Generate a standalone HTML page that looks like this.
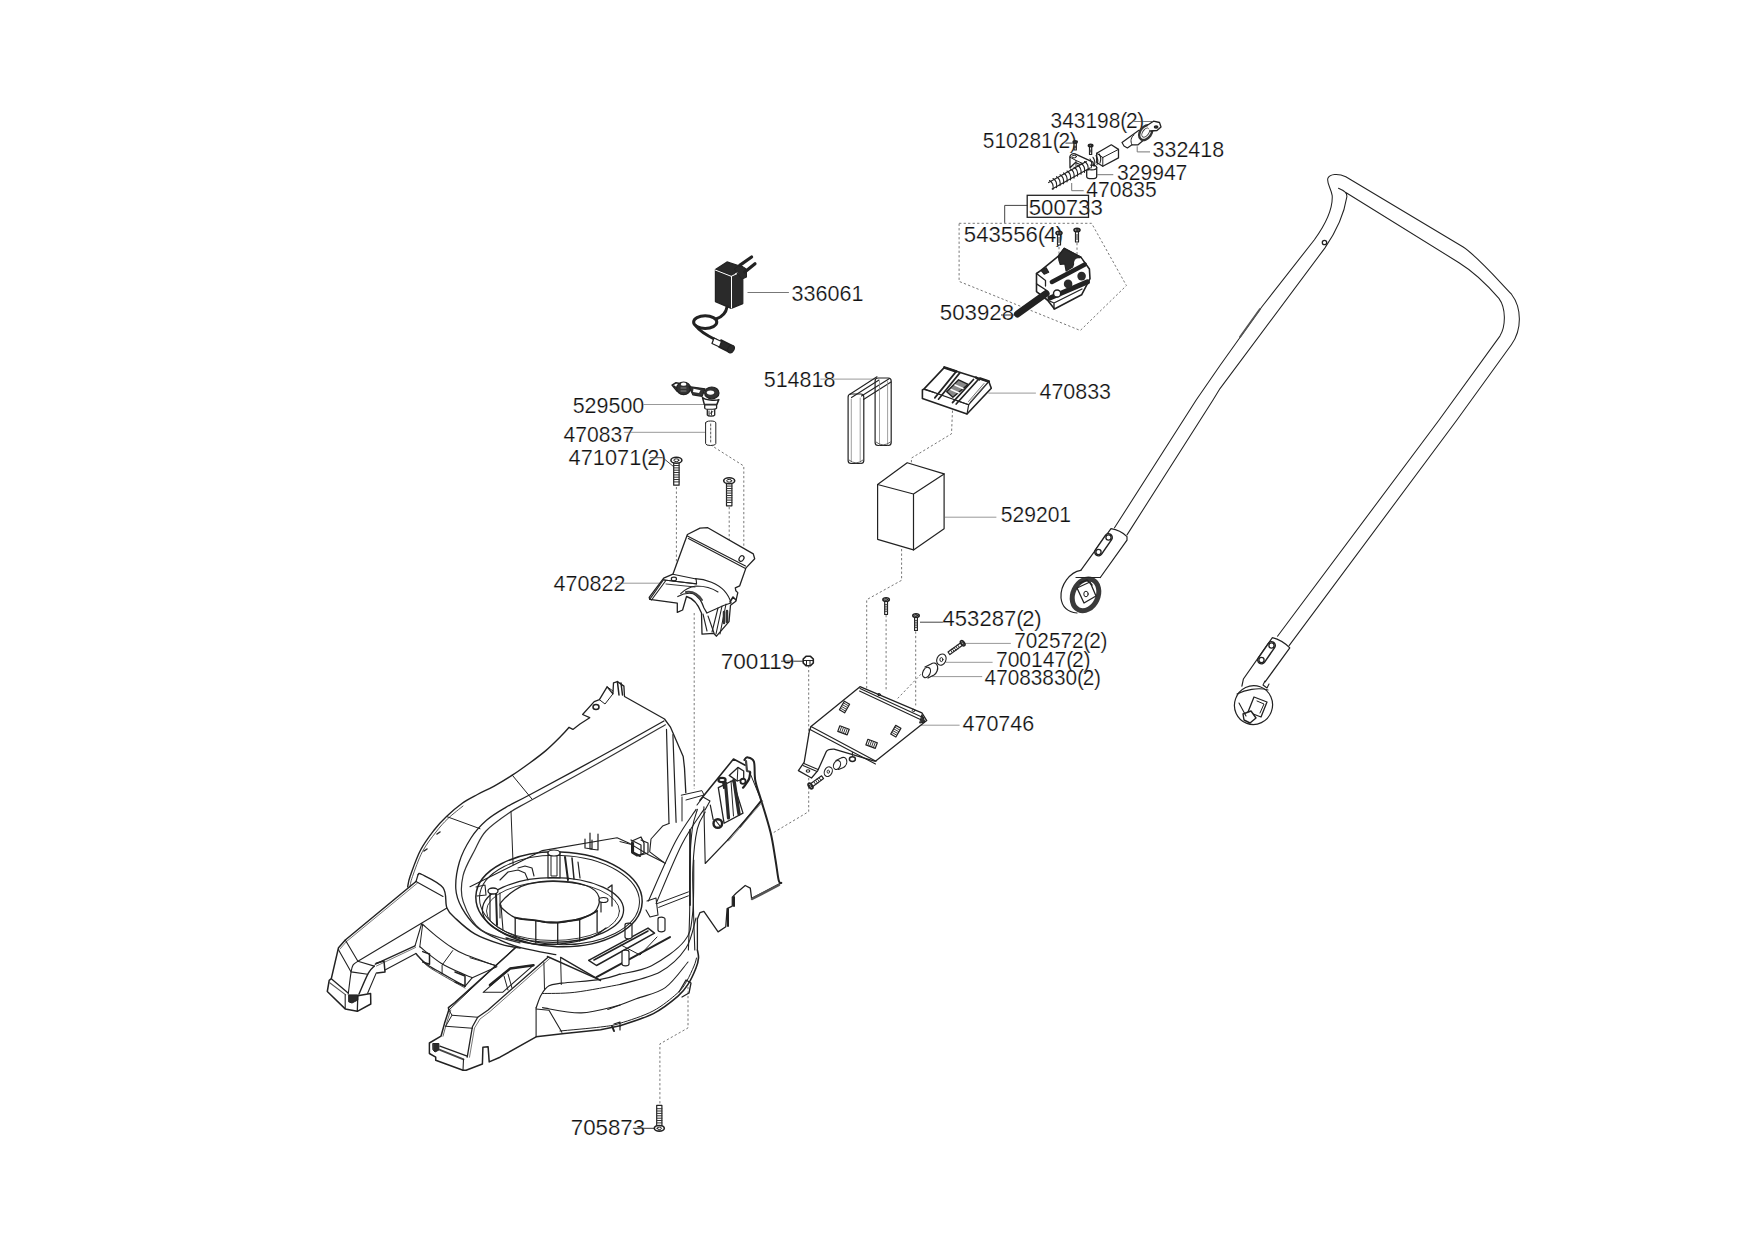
<!DOCTYPE html><html><head><meta charset="utf-8"><style>html,body{margin:0;padding:0;background:#fff;width:1754px;height:1240px;overflow:hidden}svg{display:block}text{font-family:"Liberation Sans",sans-serif}</style></head><body>
<svg width="1754" height="1240" viewBox="0 0 1754 1240">
<rect width="1754" height="1240" fill="#fff"/>
<g fill="none" stroke-width="1">
<path d="M1132,121.5H1152" stroke="#777"/>
<path d="M1065.4,143.1H1074.1" stroke="#444"/>
<path d="M1137.2,146.3V151.9H1150" stroke="#777"/>
<path d="M1097.3,174.7H1113.3" stroke="#777"/>
<path d="M1071.7,183V190.7H1083.7" stroke="#777"/>
<path d="M1004.7,205.4H1027.4M1004.7,205.4V222.9" stroke="#444"/>
<path d="M747.5,292.5H788.9" stroke="#777"/>
<path d="M820.4,379.1H876" stroke="#999"/>
<path d="M988.4,393.1H1035.9" stroke="#999"/>
<path d="M643.4,404.5H704.5" stroke="#999"/>
<path d="M624.2,432.3H705.7" stroke="#999"/>
<path d="M649.7,457.7H662.7L674.3,467.2" stroke="#444"/>
<path d="M945,517.2H996.4" stroke="#999"/>
<path d="M616.1,583.2H659.9" stroke="#999"/>
<path d="M920,622.2H943.3" stroke="#444"/>
<path d="M962.7,643.4H1010.8" stroke="#999"/>
<path d="M781.1,661.2H803.8" stroke="#333"/>
<path d="M945.8,662.3H992.6" stroke="#999"/>
<path d="M932,676.6H982.2" stroke="#999"/>
<path d="M917,725.2H959.6" stroke="#999"/>
<path d="M632.9,1128.3H654.7" stroke="#333"/>
<path d="M1001,315H1018" stroke="#333"/>
</g>
<g fill="none" stroke="#777" stroke-width="1" stroke-dasharray="2.3,2.2">
<path d="M959.1,223.3H1091.6L1126.4,285.6L1080.3,330.5L959.1,281.4Z"/>
<path d="M676.4,487V570"/>
<path d="M729.2,507V598"/>
<path d="M710.4,444.8L743.8,466V552"/>
<path d="M659.9,1103.4V1043.9L688,1027.9V987"/>
<path d="M808.7,665.5V811.6L771.5,833.8"/>
<path d="M901.6,549V580.3L866.7,599.7V725.4"/>
<path d="M886.1,615V691.6"/>
<path d="M915.7,631.4V705.4"/>
<path d="M921,674.2L897.7,698.4"/>
<path d="M952.5,410.6L951.5,433.8L911.4,458.1V482.4"/>
<path d="M1059,247V262"/>
<path d="M1077,243V256"/>
<path d="M694.2,613V789"/>
</g>
<g font-size="21.3" fill="#111" stroke="#fff" stroke-width="0.22">
<text transform="translate(1050.52,127.90) scale(0.9817,1.02)">343198(<tspan dx="-1.2">2</tspan><tspan dx="-0.4">)</tspan></text>
<text transform="translate(982.82,148.20) scale(0.9839,1.02)">510281(<tspan dx="-1.2">2</tspan><tspan dx="-0.4">)</tspan></text>
<text transform="translate(1152.59,156.80) scale(1.0072,1.02)">332418</text>
<text transform="translate(1117.01,179.60) scale(0.9899,1.02)">329947</text>
<text transform="translate(1086.31,196.50) scale(0.9899,1.02)">470835</text>
<text transform="translate(1028.76,214.70) scale(1.0420,1.02)">500733</text>
<text transform="translate(963.86,241.80) scale(1.0409,1.02)">543556(<tspan dx="-1.2">4</tspan><tspan dx="-0.4">)</tspan></text>
<text transform="translate(939.86,320.10) scale(1.0449,1.02)">503928</text>
<text transform="translate(791.59,300.90) scale(1.0121,1.02)">336061</text>
<text transform="translate(763.69,387.10) scale(1.0087,1.02)">514818</text>
<text transform="translate(1039.49,398.80) scale(1.0072,1.02)">470833</text>
<text transform="translate(572.69,412.90) scale(1.0072,1.02)">529500</text>
<text transform="translate(563.51,441.90) scale(0.9913,1.02)">470837</text>
<text transform="translate(568.58,464.80) scale(1.0226,1.02)">471071(<tspan dx="-1.2">2</tspan><tspan dx="-0.4">)</tspan></text>
<text transform="translate(1000.71,521.80) scale(0.9909,1.02)">529201</text>
<text transform="translate(553.59,590.90) scale(1.0101,1.02)">470822</text>
<text transform="translate(942.56,626.00) scale(1.0366,1.02)">453287(<tspan dx="-1.2">2</tspan><tspan dx="-0.4">)</tspan></text>
<text transform="translate(1014.22,647.90) scale(0.9763,1.02)">702572(<tspan dx="-1.2">2</tspan><tspan dx="-0.4">)</tspan></text>
<text transform="translate(720.74,668.70) scale(1.0597,1.02)">700119</text>
<text transform="translate(995.91,666.90) scale(0.9903,1.02)">700147(<tspan dx="-1.2">2</tspan><tspan dx="-0.4">)</tspan></text>
<text transform="translate(984.62,684.70) scale(0.9752,1.02)">47083830(<tspan dx="-1.2">2</tspan><tspan dx="-0.4">)</tspan></text>
<text transform="translate(962.49,730.90) scale(1.0101,1.02)">470746</text>
<text transform="translate(570.75,1134.80) scale(1.0464,1.02)">705873</text>
</g>
<rect x="1027.2" y="195.3" width="61.3" height="22" fill="none" stroke="#222" stroke-width="1.3"/>
<g fill="none" stroke="#222" stroke-width="1.2" stroke-linejoin="round" stroke-linecap="round">
<path d="M407.7,886.8C408.1,885.0 408.1,881.9 410.3,875.8C412.5,869.7 416.6,857.6 420.6,850.0C424.6,842.4 429.9,835.6 434.2,830.0C438.5,824.4 441.9,820.9 446.5,816.5C451.1,812.1 456.8,807.2 461.9,803.5C467.0,799.8 472.0,797.4 477.4,794.5C482.8,791.6 488.4,789.3 494.2,786.1C500.0,782.9 506.5,779.0 512.3,775.2C518.1,771.4 523.4,767.6 529.0,763.5C534.6,759.4 540.4,755.2 545.8,750.6C551.2,746.0 557.4,739.7 561.3,735.8C565.2,731.9 567.7,728.8 569.0,727.4" fill="none" stroke="#222" stroke-width="1.4"/>
<path d="M409.9,887.0C410.3,885.2 410.4,882.4 412.5,876.5C414.6,870.6 418.6,858.9 422.5,851.5C426.4,844.1 431.8,837.5 436.0,832.0C440.2,826.5 443.5,822.8 448.0,818.5C452.5,814.2 460.5,808.1 463.0,806.0" fill="none" stroke="#444" stroke-width="0.9"/>
<path d="M569.0,727.4L572.9,729.4L580.0,724.0L589.7,717.7L582.6,714.5L594.2,701.6L599.4,699.7L607.1,686.8L612.9,693.9L613.5,682.9L617.4,681.6L623.9,686.1L624.5,696.5L664.5,719.0L670.3,726.8L683.2,756.5L684.5,768.1L685.8,792.6" fill="none" stroke="#222" stroke-width="1.3"/>
<path d="M607.1,686.8L613.0,691.0" fill="none" stroke="#222" stroke-width="1"/>
<path d="M599.4,699.7L605.0,704.0L612.9,693.9" fill="none" stroke="#222" stroke-width="1"/>
<ellipse cx="596" cy="707" rx="3" ry="2.5" stroke-width="1.5"/>
<path d="M617.4,681.6L619.0,695.0" fill="none" stroke="#222" stroke-width="1.5"/>
<path d="M621.0,683.0L622.5,695.0" fill="none" stroke="#222" stroke-width="1.5"/>
<path d="M663.9,721.0C653.2,727.0 622.3,744.5 600.0,756.8C577.7,769.0 546.0,786.1 530.3,794.5C514.6,802.9 513.1,803.1 505.8,807.4C498.5,811.7 492.3,815.2 486.5,820.3C480.7,825.4 475.5,831.0 471.0,838.0C466.5,845.0 461.9,853.5 459.4,862.0C456.9,870.5 455.4,881.0 455.8,888.7C456.2,896.4 458.4,901.7 462.0,908.1C465.6,914.5 471.0,922.0 477.4,927.4C483.8,932.8 493.2,936.9 500.6,940.3C508.0,943.7 512.4,945.5 521.6,947.9C530.8,950.3 550.1,953.6 555.8,954.7" fill="none" stroke="#222" stroke-width="1.3"/>
<path d="M665.4,724.8C654.5,731.0 622.3,749.8 600.0,762.3C577.7,774.8 546.6,791.6 531.6,800.0C516.6,808.4 517.3,807.3 509.7,812.5C502.1,817.7 491.8,824.8 486.0,831.0C480.2,837.2 478.6,842.5 474.8,850.0C471.0,857.5 464.9,867.2 463.0,875.8C461.1,884.4 460.1,892.6 463.2,901.6C466.2,910.6 471.8,923.1 481.3,930.0C490.8,936.9 513.5,940.8 520.0,942.9" fill="none" stroke="#333" stroke-width="1.2"/>
<path d="M512.3,775.2L531.7,798.7" fill="none" stroke="#222" stroke-width="1"/>
<path d="M446.5,816.5L480.0,828.7" fill="none" stroke="#222" stroke-width="1"/>
<path d="M511.0,811.3L513.1,864.8" fill="none" stroke="#222" stroke-width="1"/>
<path d="M424,851l3,-2M437,834l3,-2" stroke-width="1.5"/>
<path d="M666.5,729.4L669.0,823.5" fill="none" stroke="#222" stroke-width="1.2"/>
<path d="M672.9,734.5L676.1,822.3" fill="none" stroke="#222" stroke-width="1.2"/>
<path d="M681.3,795.2L701.9,790.6L704.0,795.0L686.0,800.0" fill="none" stroke="#222" stroke-width="1"/>
<path d="M682.0,797.0L682.0,821.0" fill="none" stroke="#222" stroke-width="1"/>
<path d="M700.0,800.3L733.5,759.0L745.2,765.2" fill="none" stroke="#222" stroke-width="1.6"/>
<path d="M744.4,760.0C744.9,759.5 745.7,757.0 747.3,757.3C748.9,757.6 752.6,757.7 753.9,761.6C755.2,765.5 754.1,774.1 755.3,780.5C756.5,786.9 758.5,791.4 761.1,800.1C763.7,808.8 768.2,822.6 770.6,832.6C773.0,842.6 774.1,852.0 775.5,860.0C776.9,868.0 777.7,876.5 778.7,880.3C779.7,884.1 780.9,882.5 781.3,882.9" fill="none" stroke="#222" stroke-width="2"/>
<path d="M746.0,761.0L747.0,771.0L750.0,771.8" fill="none" stroke="#444" stroke-width="2.2"/>
<path d="M749.5,771.8L761.1,800.1" fill="none" stroke="#222" stroke-width="1"/>
<path d="M750.2,772.5C750.0,773.6 749.7,777.1 749.0,779.0C748.3,780.9 747.0,782.5 746.0,784.0C745.0,785.5 743.5,787.1 743.0,787.7" fill="none" stroke="#222" stroke-width="2.2"/>
<circle cx="743" cy="781.2" r="2.6" stroke-width="1.8" fill="#fff"/>
<path d="M729.2,775.4L737.9,767.4L743.7,771.0L743.7,779.0L737.2,781.0L729.2,775.4" fill="none" stroke="#222" stroke-width="1.3"/>
<path d="M737.9,767.4L737.2,781.0" fill="none" stroke="#222" stroke-width="1"/>
<path d="M718.3,787.7L732.8,780.5L743.0,813.1L724.1,823.3L718.3,787.7" fill="none" stroke="#222" stroke-width="1.3"/>
<path d="M725.5,783.0L728.5,818.0" fill="none" stroke="#2a2a2a" stroke-width="3.2"/>
<path d="M734.0,780.5L739.0,814.0" fill="none" stroke="#2a2a2a" stroke-width="3.4"/>
<path d="M731.0,781.0L733.5,816.0" fill="none" stroke="#222" stroke-width="1"/>
<ellipse cx="722" cy="780" rx="3.6" ry="2.2" stroke-width="2.2" fill="#fff"/>
<path d="M723.0,782.0L724.0,788.0" fill="none" stroke="#222" stroke-width="2"/>
<circle cx="717.8" cy="823.5" r="4.3" stroke-width="2.4" fill="#fff"/>
<path d="M716.0,821.0L720.0,826.0" fill="none" stroke="#222" stroke-width="1.2"/>
<path d="M710.3,805.2L713.2,819.7" fill="none" stroke="#222" stroke-width="1.2"/>
<path d="M740.0,826.9L761.4,800.3" fill="none" stroke="#222" stroke-width="1.6"/>
<path d="M727.7,840.0L761.8,800.8" fill="none" stroke="#222" stroke-width="1.2"/>
<path d="M728.5,841.0L762.5,801.8" fill="none" stroke="#666" stroke-width="0.8"/>
<path d="M703.9,806.8L705.2,863.5L727.7,840.0" fill="none" stroke="#222" stroke-width="1.1"/>
<path d="M781.3,882.9L751.6,898.4L750.3,888.1L745.2,885.5L736.1,893.2L732.3,897.1L732.3,906.1L727.1,908.7L725.8,926.8L718.1,931.9L703.9,911.3L700.0,912.6L697.4,919.0L697.4,950.0" fill="none" stroke="#222" stroke-width="1.3"/>
<path d="M779.0,885.0L752.0,899.0" fill="none" stroke="#555" stroke-width="2.5"/>
<path d="M734.0,897.0L734.0,906.0" fill="none" stroke="#222" stroke-width="2"/>
<path d="M728.0,909.0L728.0,926.0" fill="none" stroke="#222" stroke-width="2"/>
<path d="M696.1,809.4C692.7,814.8 683.5,826.3 675.5,841.6C667.5,856.9 652.9,891.1 648.4,901.0" fill="none" stroke="#222" stroke-width="1.1"/>
<path d="M703.9,809.4C700.2,815.2 689.9,828.5 681.9,844.2C673.9,859.9 660.4,893.6 656.1,903.5" fill="none" stroke="#222" stroke-width="1.1"/>
<path d="M697.4,809.4C696.5,812.6 693.6,819.0 692.3,828.7C691.0,838.4 690.1,853.9 689.7,867.4C689.3,880.9 689.9,896.2 689.7,910.0C689.5,923.8 688.6,943.3 688.4,950.0" fill="none" stroke="#222" stroke-width="1.1"/>
<path d="M705.2,812.0C703.9,814.8 699.5,819.5 697.4,828.7C695.3,837.9 693.5,853.9 692.9,867.4C692.2,880.9 693.2,896.2 693.5,910.0C693.8,923.8 694.6,943.3 694.8,950.0" fill="none" stroke="#222" stroke-width="1.1"/>
<path d="M697.0,805.0L703.0,797.0L710.0,801.0L705.0,810.0" fill="none" stroke="#222" stroke-width="1.1"/>
<path d="M690.0,830.0L690.0,905.0" fill="none" stroke="#222" stroke-width="1.8"/>
<path d="M647.0,901.0L656.0,898.0L658.0,915.0L650.0,917.0L646.0,910.0" fill="none" stroke="#222" stroke-width="1.1"/>
<path d="M657.4,903.5L688.4,891.9" fill="none" stroke="#222" stroke-width="1"/>
<path d="M658.7,907.4L688.4,895.8" fill="none" stroke="#222" stroke-width="1"/>
<path d="M669.0,823.5L662.6,826.1L651.0,839.0L649.7,851.9L665.2,863.5" fill="none" stroke="#222" stroke-width="1.1"/>
<path d="M620.0,841.6L630.3,844.2" fill="none" stroke="#222" stroke-width="1"/>
<path d="M631.0,840.0L641.0,845.0L641.0,855.0L648.0,853.0L648.0,843.0L641.0,840.0" fill="none" stroke="#222" stroke-width="1.2"/>
<path d="M632.0,843.0L632.0,852.0L640.0,856.0" fill="none" stroke="#222" stroke-width="2"/>
<path d="M416.0,881.5L345.3,940.0L338.5,947.7L331.3,978.7L329.2,980.3L327.3,991.5L345.2,1008.9L357.3,1011.3L370.8,1004.0L370.6,993.4L357.8,995.8" fill="none" stroke="#222" stroke-width="1.5"/>
<path d="M417.5,883.0L346.5,941.5L340.0,949.0" fill="none" stroke="#555" stroke-width="0.8"/>
<path d="M418.1,874.5C418.7,874.5 417.8,872.3 421.9,874.5C426.0,876.7 438.8,882.1 443.0,887.7C447.2,893.3 444.8,902.9 446.9,908.0C449.0,913.1 450.9,914.1 455.5,918.4C460.1,922.7 467.3,929.6 474.8,933.9C482.3,938.2 493.1,941.8 500.6,944.2C508.1,946.6 516.8,947.5 520.0,948.1" fill="none" stroke="#222" stroke-width="1.4"/>
<path d="M416.0,881.5L418.1,874.5" fill="none" stroke="#222" stroke-width="1.2"/>
<path d="M416.0,881.5L443.0,896.4" fill="none" stroke="#222" stroke-width="1.1"/>
<path d="M446.9,908.0L357.9,961.3L345.3,940.0" fill="none" stroke="#222" stroke-width="1.1"/>
<path d="M357.9,961.3C357.1,961.9 354.1,963.3 353.0,965.1C351.9,966.9 351.9,967.0 351.1,971.9C350.3,976.8 348.7,990.5 348.2,994.2" fill="none" stroke="#222" stroke-width="1.1"/>
<path d="M338.5,949.7L351.1,971.9L367.6,974.3" fill="none" stroke="#222" stroke-width="1.1"/>
<path d="M357.9,961.3L374.3,966.1" fill="none" stroke="#222" stroke-width="1.1"/>
<path d="M374.3,966.1C373.3,967.2 371.1,968.2 368.5,972.9C365.9,977.6 360.5,990.7 358.9,994.2" fill="none" stroke="#222" stroke-width="1.4"/>
<path d="M376.3,972.9L367.6,993.2" fill="none" stroke="#222" stroke-width="1.1"/>
<path d="M331.6,978.9L348.1,992.9" fill="none" stroke="#222" stroke-width="1.3"/>
<path d="M329.7,982.7L345.7,994.9" fill="none" stroke="#555" stroke-width="1.1"/>
<path d="M345.2,994.9L345.2,1008.4" fill="none" stroke="#222" stroke-width="1.1"/>
<path d="M349.0,994.9L357.8,994.9L357.8,1000.0L352.0,1003.0L349.0,1002.0Z" fill="#2a2a2a" stroke="#222" stroke-width="1"/>
<path d="M357.8,996.0L357.3,1011.3" fill="none" stroke="#222" stroke-width="1.3"/>
<path d="M375.3,964.2L415.0,945.8" fill="none" stroke="#222" stroke-width="1.3"/>
<path d="M376.5,966.0L415.5,947.5" fill="none" stroke="#555" stroke-width="0.8"/>
<path d="M385.0,970.0L415.9,953.5" fill="none" stroke="#222" stroke-width="1.1"/>
<path d="M376.3,963.2L384.0,961.0L385.0,972.0L377.0,973.0" fill="none" stroke="#222" stroke-width="1.5"/>
<path d="M421.7,923.5L415.0,945.8" fill="none" stroke="#222" stroke-width="1.1"/>
<path d="M422.7,924.0L419.8,946.8" fill="none" stroke="#222" stroke-width="1"/>
<path d="M422.7,924.5C425.0,926.4 431.6,932.4 436.3,936.1C441.0,939.8 446.0,943.7 450.8,946.8C455.6,949.9 457.3,951.3 465.0,954.5C472.7,957.7 491.5,964.2 496.8,966.1" fill="none" stroke="#222" stroke-width="1.1"/>
<path d="M415.9,953.5C417.7,955.3 422.4,961.0 426.6,964.2C430.8,967.4 434.7,969.2 441.1,972.9C447.5,976.6 461.0,984.1 465.0,986.4" fill="none" stroke="#222" stroke-width="1.3"/>
<path d="M417.0,955.5C418.8,957.2 423.3,962.8 427.5,966.0C431.7,969.2 435.8,971.3 442.0,975.0C448.2,978.7 461.2,985.8 465.0,988.0" fill="none" stroke="#222" stroke-width="0.8"/>
<path d="M419.8,946.8C423.4,949.5 433.6,958.5 441.1,963.2C448.6,967.9 459.8,972.4 465.0,974.8C470.2,977.2 471.1,977.2 472.3,977.7" fill="none" stroke="#222" stroke-width="1.1"/>
<path d="M452.7,950.6L442.1,965.1L442.1,973.0" fill="none" stroke="#222" stroke-width="1"/>
<path d="M422.7,951.6L429.5,954.0L429.5,964.2L422.7,962.0" fill="none" stroke="#222" stroke-width="1.5"/>
<path d="M455.0,972.0L465.0,976.0L465.0,986.0L455.0,982.0" fill="none" stroke="#222" stroke-width="1.5"/>
<path d="M465.0,986.4L472.3,977.7L496.8,966.8" fill="none" stroke="#222" stroke-width="1.1"/>
<path d="M515.5,947.7L454.8,1002.6L448.4,1007.7L448.8,1010.0L444.6,1023.1L441.0,1036.2L429.4,1043.0L429.4,1053.5L435.7,1057.2L435.7,1060.3L463.0,1070.3L466.1,1070.3L482.4,1064.0L482.9,1047.2L488.1,1046.7L489.2,1061.9L500.0,1057.2L536.1,1036.8L564.5,1033.5L600.6,1029.7L620.0,1025.8" fill="none" stroke="#222" stroke-width="1.5"/>
<path d="M450.8,1010.0L446.6,1023.1L443.0,1036.2" fill="none" stroke="#555" stroke-width="0.9"/>
<path d="M547.7,957.4L488.1,1010.0L477.7,1017.3L472.4,1026.8L467.2,1057.2" fill="none" stroke="#222" stroke-width="1.3"/>
<path d="M549.5,958.7L490.0,1011.5L480.0,1019.0L474.5,1028.0L469.5,1057.2" fill="none" stroke="#555" stroke-width="0.8"/>
<path d="M452.0,1015.2L477.7,1017.3" fill="none" stroke="#222" stroke-width="1.1"/>
<path d="M445.7,1026.2L472.4,1028.3" fill="none" stroke="#222" stroke-width="1.1"/>
<path d="M448.8,1010.0L452.0,1015.2L445.7,1026.2" fill="none" stroke="#222" stroke-width="1"/>
<path d="M439.9,1046.2L467.2,1056.1" fill="none" stroke="#222" stroke-width="1.3"/>
<path d="M439.9,1049.8L463.5,1059.3" fill="none" stroke="#444" stroke-width="1.8"/>
<path d="M463.5,1059.3L463.0,1070.3" fill="none" stroke="#222" stroke-width="1.1"/>
<path d="M433.1,1043.5L438.9,1043.5L438.9,1050.0L435.0,1052.0L433.1,1050.0Z" fill="#2a2a2a" stroke="#222" stroke-width="1"/>
<path d="M483.2,992.3L510.3,968.4L533.5,965.2L502.6,992.3L483.2,992.3" fill="none" stroke="#222" stroke-width="1.1"/>
<path d="M490.0,985.0L510.3,968.4L533.5,965.2" fill="none" stroke="#222" stroke-width="2.5"/>
<path d="M504.0,976.0L508.0,990.0" fill="none" stroke="#222" stroke-width="1"/>
<path d="M508.0,974.0L512.0,988.0" fill="none" stroke="#222" stroke-width="1"/>
<path d="M470.0,957.7L495.8,965.5" fill="none" stroke="#222" stroke-width="1"/>
<path d="M515.2,947.4L495.8,965.5L449.0,1010.0" fill="none" stroke="#222" stroke-width="1"/>
<path d="M536.1,1007.7C537.0,1005.6 539.1,998.4 541.3,994.8C543.4,991.1 545.6,987.7 549.0,985.8C552.4,983.9 553.3,984.3 561.9,983.2C570.5,982.1 590.9,980.9 600.6,979.4C610.3,977.9 616.8,975.1 620.0,974.2" fill="none" stroke="#222" stroke-width="1.2"/>
<path d="M542.6,993.5C548.0,993.3 561.9,993.8 574.8,992.3C587.7,990.8 612.5,985.8 620.0,984.5" fill="none" stroke="#222" stroke-width="1"/>
<path d="M536.1,1009.0L549.0,1010.3L561.9,1032.3" fill="none" stroke="#222" stroke-width="1.1"/>
<path d="M542.6,1007.7C549.0,1008.6 568.4,1013.3 581.3,1012.9C594.2,1012.5 613.5,1006.5 620.0,1005.2" fill="none" stroke="#222" stroke-width="1.2"/>
<path d="M536.1,1007.7L536.1,1036.8" fill="none" stroke="#222" stroke-width="1.1"/>
<path d="M543.9,962.6L544.5,989.7" fill="none" stroke="#222" stroke-width="1"/>
<path d="M560.6,957.4L561.3,984.5" fill="none" stroke="#222" stroke-width="1"/>
<path d="M560.6,957.4L600.6,980.6" fill="none" stroke="#222" stroke-width="1.4"/>
<path d="M620.0,1025.8C625.6,1023.8 643.7,1018.5 653.4,1013.6C663.1,1008.7 672.2,1001.2 678.0,996.2C683.8,991.2 685.3,988.6 688.3,983.9C691.3,979.2 694.3,972.3 696.0,968.0C697.7,963.7 698.3,961.0 698.5,958.0C698.7,955.0 697.6,951.3 697.4,950.0" fill="none" stroke="#222" stroke-width="1.6"/>
<path d="M560.0,1031.0C566.8,1030.3 590.6,1028.3 600.6,1027.0C610.6,1025.7 611.3,1026.0 620.0,1023.3C628.7,1020.6 643.5,1016.0 653.0,1011.0C662.5,1006.0 671.4,998.4 677.0,993.5C682.6,988.6 683.7,986.1 686.5,981.5C689.3,976.9 692.3,969.9 694.0,966.0C695.7,962.1 696.1,959.3 696.5,958.0" fill="none" stroke="#222" stroke-width="1.0"/>
<path d="M620.0,974.2C625.3,972.8 640.9,971.2 651.6,965.7C662.3,960.2 677.6,949.7 684.4,941.0C691.2,932.3 691.0,927.2 692.6,913.7C694.2,900.2 693.6,869.0 693.8,860.0" fill="none" stroke="#222" stroke-width="1.1"/>
<path d="M620.0,984.5C626.7,982.4 649.0,978.1 660.0,972.0C671.0,965.9 680.0,957.0 686.0,948.0C692.0,939.0 694.3,923.0 696.0,918.0" fill="none" stroke="#222" stroke-width="1.1"/>
<path d="M607.8,1009.5C612.5,1007.7 626.6,1002.4 636.2,998.8C645.8,995.1 656.7,993.7 665.3,987.6C673.9,981.5 684.2,966.3 688.0,962.0" fill="none" stroke="#222" stroke-width="1.1"/>
<path d="M679.0,992.0L686.0,980.0L691.0,983.0L689.0,993.0L682.0,997.0" fill="none" stroke="#222" stroke-width="1.3"/>
<path d="M612.0,1026.0L614.0,1031.0" fill="none" stroke="#222" stroke-width="2"/>
<path d="M614.0,1024.0L620.0,1022.0L620.0,1030.0" fill="none" stroke="#222" stroke-width="1.2"/>
<path d="M588.7,960.3L648.0,928.1L654.5,933.2L596.5,965.5L588.7,960.3" fill="none" stroke="#222" stroke-width="1.5"/>
<path d="M594.0,960.0L648.0,931.0" fill="none" stroke="#222" stroke-width="1.6"/>
<path d="M547.4,956.5L599.0,979.7" fill="none" stroke="#222" stroke-width="1.4"/>
<path d="M596.5,977.1L670.0,937.1" fill="none" stroke="#222" stroke-width="2.0"/>
<path d="M625,925v12a3.5,1.8 0 0 0 7,0v-12a3.5,1.8 0 0 0 -7,0z" fill="#fff" stroke-width="1.2"/>
<path d="M622,952v12a3.5,1.8 0 0 0 7,0v-12a3.5,1.8 0 0 0 -7,0z" fill="#fff" stroke-width="1.2"/>
<path d="M658,919v11a3.5,1.8 0 0 0 7,0v-11a3.5,1.8 0 0 0 -7,0z" fill="#fff" stroke-width="1.2"/>
<path d="M621.0,945.0L640.0,955.0L657.0,937.0" fill="none" stroke="#222" stroke-width="1"/>
<ellipse cx="559" cy="899.3" rx="83.2" ry="47.4" transform="rotate(2 559 899.3)" stroke-width="1.5"/>
<ellipse cx="559.5" cy="900" rx="80" ry="44.6" transform="rotate(2 559.5 900)" stroke-width="1.0"/>
<ellipse cx="553" cy="910" rx="70.6" ry="32.3" stroke-width="1.3"/>
<ellipse cx="553" cy="911" rx="66.5" ry="29.5" stroke-width="0.9"/>
<path d="M501.0,907.4C501.0,906.5 498.7,905.2 501.0,902.3C503.3,899.4 510.5,893.0 515.0,890.0C519.5,887.0 521.5,885.7 528.0,884.2C534.5,882.7 544.2,880.8 553.9,881.0C563.6,881.2 578.5,882.8 586.0,885.5C593.5,888.2 597.7,892.6 599.0,897.1C600.3,901.6 598.3,908.7 594.0,912.6C589.7,916.5 580.1,918.6 573.2,920.3C566.3,922.0 559.1,922.9 552.6,922.9C546.1,922.9 540.7,921.2 534.5,920.3C528.3,919.4 520.8,919.9 515.2,917.7C509.6,915.6 503.4,909.1 501.0,907.4" fill="none" stroke="#222" stroke-width="1.3"/>
<path d="M506.0,938.0C510.7,939.0 525.0,943.0 534.0,944.0C543.0,945.0 550.7,945.0 560.0,944.0C569.3,943.0 582.3,940.7 590.0,938.0C597.7,935.3 603.3,929.7 606.0,928.0" fill="none" stroke="#222" stroke-width="1.3"/>
<path d="M515.2,917.7L515.2,938.0" fill="none" stroke="#222" stroke-width="1.3"/>
<path d="M535.8,920.3L535.8,943.0" fill="none" stroke="#222" stroke-width="1.3"/>
<path d="M557.7,922.5L557.7,944.0" fill="none" stroke="#222" stroke-width="1.3"/>
<path d="M579.7,919.5L579.7,941.0" fill="none" stroke="#222" stroke-width="1.3"/>
<path d="M597.1,911.0L597.1,932.0" fill="none" stroke="#222" stroke-width="1.3"/>
<path d="M501.0,905.0L503.0,930.0" fill="none" stroke="#222" stroke-width="1.1"/>
<path d="M515.2,917.7L522.0,919.0L535.8,920.3L545.0,922.0L557.7,922.5L568.0,921.0L579.7,919.5L590.0,915.0L597.1,911.0" fill="none" stroke="#222" stroke-width="1.8"/>
<path d="M548.0,852.0L548.0,878.0L560.0,878.0L560.0,852.0" fill="none" stroke="#222" stroke-width="1.2"/>
<path d="M551.0,856.0L551.0,876.0L557.0,876.0L557.0,856.0" fill="none" stroke="#222" stroke-width="1"/>
<ellipse cx="554" cy="853" rx="6" ry="3" fill="#fff" stroke-width="1.2"/>
<path d="M565.0,857.0L568.0,880.0" fill="none" stroke="#222" stroke-width="2"/>
<path d="M572.0,858.0L574.0,879.0" fill="none" stroke="#222" stroke-width="1.5"/>
<path d="M578.0,862.0L580.0,878.0" fill="none" stroke="#222" stroke-width="1.2"/>
<path d="M490.0,892.0L490.0,920.0" fill="none" stroke="#222" stroke-width="1.2"/>
<path d="M496.0,893.0L497.0,925.0" fill="none" stroke="#222" stroke-width="2"/>
<path d="M500.0,893.0L500.0,918.0" fill="none" stroke="#222" stroke-width="1"/>
<ellipse cx="493" cy="891" rx="5" ry="3" fill="#fff" stroke-width="1.3"/>
<path d="M601.0,900.0L601.0,912.0" fill="none" stroke="#222" stroke-width="1.2"/>
<ellipse cx="603.5" cy="900" rx="4.5" ry="2.5" fill="#fff" stroke-width="1.2"/>
<path d="M608.0,888.0L612.0,885.0L612.0,906.0" fill="none" stroke="#222" stroke-width="1.3"/>
<path d="M500.0,880.0L508.0,872.0L518.0,870.0L525.0,873.0L528.0,880.0" fill="none" stroke="#222" stroke-width="1.1"/>
<path d="M518.0,868.0L525.0,866.0L532.0,868.0L534.0,876.0" fill="none" stroke="#222" stroke-width="1.1"/>
<path d="M476.0,887.0L485.0,885.0L486.0,895.0L477.0,896.0" fill="none" stroke="#222" stroke-width="1.1"/>
<path d="M470.0,886.8L542.3,850.6L617.1,837.7L628.7,842.9L648.0,854.5L663.5,862.3" fill="none" stroke="#222" stroke-width="1.1"/>
<path d="M585.0,839.0L585.0,848.0L592.0,849.0L592.0,840.0" fill="none" stroke="#222" stroke-width="1.2"/>
<path d="M590.0,833.0L590.0,849.0L598.0,850.0L598.0,834.0" fill="none" stroke="#222" stroke-width="1.2"/>
<path d="M632.0,841.0L641.0,837.0L644.0,843.0L644.0,853.0L637.0,856.0L632.0,853.0L632.0,841.0" fill="none" stroke="#222" stroke-width="1.3"/>
<path d="M633.0,843.0L633.0,852.0" fill="none" stroke="#222" stroke-width="2.2"/>
</g><g fill="none" stroke="#222" stroke-width="1.2" stroke-linejoin="round" stroke-linecap="round">
<path stroke-width="1.05" d="M1114.5,527.8L1196.2,400L1220,365.5L1261.9,306.8L1314.4,239.7C1325,225 1333,210 1332.2,195.6C1331,188 1326,182 1328,178C1330,174 1338,173 1345.8,176.8L1463.2,247C1478,257 1496,278 1511.5,294.2C1522,308 1522,330 1511.5,344.5L1456.9,420L1289.1,645.6"/>
<path stroke-width="1.05" d="M1127,534.9L1213,400L1220,388.6L1324.8,248.1C1336,232 1344,215 1346.9,196.7C1347,193 1345,191 1338.5,188.3M1345.8,192.5L1459,262.7C1474,272 1490,288 1498.9,298.4C1506,308 1506,326 1499.9,336.1L1439.1,420L1277.5,636.2"/>
<circle cx="1324.5" cy="242.5" r="2.2" stroke-width="1.3"/>
<path d="M1260,309L1240,337" stroke-width="2" stroke="#555"/>
<path d="M1111,528.7Q1120,530 1127,536.6L1127,540.2L1100.3,577.5M1111,528.7L1080.8,570.4" fill="#fff"/>
<path d="M1108.5,537.5L1098.5,552" stroke-width="9" stroke-linecap="round"/><path d="M1108.5,537.5L1098.5,552" stroke="#fff" stroke-width="6" stroke-linecap="round"/>
<circle cx="1108.5" cy="537.5" r="2.6" stroke-width="1.3"/><circle cx="1098.5" cy="552" r="2.6" stroke-width="1.3"/>
<path d="M1080.8,570.4C1070,572 1060,585 1061,598C1062,607 1068,612 1077,613" fill="#fff" stroke-width="1.2"/>
<ellipse cx="1085.5" cy="594.8" rx="12.5" ry="16.5" transform="rotate(25 1085.5 594.8)" fill="#fff" stroke-width="5" stroke="#3a3a3a"/>
<path d="M1076,577.5H1100.3" stroke-width="1.2"/>
<path d="M1077,588L1090,582L1096,596L1084,603Z" fill="#fff" stroke-width="1.3"/><ellipse cx="1086" cy="594" rx="2.2" ry="2.8" stroke-width="1"/>
<path d="M1080,583L1087,580L1092,585" stroke-width="1.5"/>
<path d="M1272.4,637.6Q1282,640 1289.8,647.8L1265.1,681.9M1272.4,637.6L1243.4,679L1241.9,686.2" fill="#fff"/>
<path d="M1271.5,645.5L1261.5,660" stroke-width="9" stroke-linecap="round"/><path d="M1271.5,645.5L1261.5,660" stroke="#fff" stroke-width="6" stroke-linecap="round"/>
<circle cx="1271.5" cy="645.5" r="2.6" stroke-width="1.3"/><circle cx="1261.5" cy="660" r="2.6" stroke-width="1.3"/>
<path d="M1265,681L1263,685L1267,688L1269,684" stroke-width="1.1"/>
<ellipse cx="1253.5" cy="705.1" rx="19" ry="19.5" transform="rotate(20 1253.5 705.1)" fill="#fff"/>
<path d="M1237,694C1245,690 1258,687 1268,690" stroke-width="1.1"/>
<path d="M1254,697L1267,702L1261,717L1248,712Z" fill="#fff" stroke-width="1.3"/><path d="M1257,701L1264,704L1260,713" stroke-width="1"/>
<path d="M1243,714L1251,711L1256,718L1250,723L1244,720Z" fill="#fff" stroke-width="1.4"/>
<path d="M1239,703L1246,716" stroke-width="1.1"/>
<path d="M715.4,270.1L731.2,276.3L742.8,271.5L742.8,303.6L731.2,308.4L715.4,301.6Z" fill="#2a2a2a" stroke="#222" stroke-width="1.2" />
<path d="M715.4,269.4L727,261.9L742.1,266.7L731.8,275.6Z" fill="#2a2a2a" stroke="#222" stroke-width="1.2" />
<path d="M715.4,270.1L731.2,276.3L742.4,271.3M731.5,276.3V308" fill="none" stroke="#fff" stroke-width="1" />
<path d="M734.6,268.8L740,265L746.5,269L746.5,277.2L742,279Z" fill="#2a2a2a" stroke="#222" stroke-width="1" />
<path d="M739.7,265.4L751.6,257M744.8,272L755,263.7" fill="none" stroke="#222" stroke-width="3.2" />
<path d="M727,307C726,313 722,317 716,319" fill="none" stroke="#222" stroke-width="3" />
<ellipse cx="705.2" cy="322.1" rx="11.6" ry="6.4" stroke-width="3"/>
<path d="M696,326C700,332 708,336 716,340" fill="none" stroke="#222" stroke-width="3" />
<path d="M721,340L731,345L729,352L719,347Z" fill="#2a2a2a" stroke="#222" stroke-width="1.5" />
<ellipse cx="731" cy="349" rx="3" ry="4" fill="#2a2a2a" transform="rotate(30 731 349)"/>
<path d="M714,338L721.5,341.5L719.5,347L712,343.5Z" fill="#fff" stroke="#222" stroke-width="1.3" />
<path d="M672.1,385.1L676,382.8L680,383.5L681,392.5L677,391Z" fill="#fff" stroke="#222" stroke-width="1.6" />
<path d="M674,386L679,390" fill="none" stroke="#222" stroke-width="1.5" />
<ellipse cx="683.6" cy="388.3" rx="7" ry="6.3" fill="#333" stroke="#222" stroke-width="1.2"/>
<ellipse cx="683.6" cy="384.2" rx="2.8" ry="1.6" fill="#fff" stroke="none"/>
<path d="M681,388H686M681,391H686" fill="none" stroke="#999" stroke-width="0.8" />
<path d="M689,386.5L705.1,388.8L702.1,396.3L692.8,394.8Z" fill="#333" stroke="#222" stroke-width="1.2" />
<path d="M693.5,388.8L700.5,390.2L699,393L693,392Z" fill="#fff" stroke="none" stroke-width="1.2" />
<path d="M702.5,397.5C705,400 715,401 718.8,399.6L716.9,404.4H704.3Z" fill="#fff" stroke="#222" stroke-width="1.5" />
<ellipse cx="711.8" cy="392.9" rx="7.2" ry="5.9" fill="#333" stroke="#222" stroke-width="1.2"/>
<ellipse cx="710.5" cy="392.6" rx="3.7" ry="2.1" fill="#fff" stroke="none"/>
<path d="M704.7,404.8V408C705,410 716,410 716.6,408V404.8Z" fill="#fff" stroke="#222" stroke-width="1.3" />
<path d="M707.3,409.8V415C708,416.5 714,416.5 714.7,415V409.8" fill="#fff" stroke="#222" stroke-width="1.3" />
<path d="M709,411V415M711.5,411V415M713,411.5L710,413.5" fill="none" stroke="#222" stroke-width="0.9" />
<path d="M705.6,423V443.5A5.1,2 0 0 0 715.8,443.5V423A5.1,2 0 0 0 705.6,423Z" fill="#fff" stroke="#222" stroke-width="1" />
<path d="M710.7,424V443" stroke="#555" stroke-width="1" stroke-dasharray="2,2"/>
<path d="M673.7,460.2L673.7,485.2L679.1,485.2L679.1,460.2Z" fill="#fff" stroke="#222" stroke-width="1.2"/><path d="M673.7,465.5L679.1,465.5M673.7,467.9L679.1,467.9M673.7,470.2L679.1,470.2M673.7,472.5L679.1,472.5M673.7,474.9L679.1,474.9M673.7,477.2L679.1,477.2M673.7,479.5L679.1,479.5M673.7,481.9L679.1,481.9" stroke="#333" stroke-width="1"/><ellipse cx="676.4" cy="460.2" rx="5.5" ry="3.0" fill="#fff" stroke="#222" stroke-width="1.6" transform="rotate(0.0 676.4 460.2)"/><ellipse cx="676.4" cy="460.2" rx="2.5" ry="1.4" fill="none" stroke="#222" stroke-width="1" transform="rotate(0.0 676.4 460.2)"/>
<path d="M726.5,480.8L726.5,505.8L731.9,505.8L731.9,480.8Z" fill="#fff" stroke="#222" stroke-width="1.2"/><path d="M726.5,486.1L731.9,486.1M726.5,488.5L731.9,488.5M726.5,490.8L731.9,490.8M726.5,493.1L731.9,493.1M726.5,495.5L731.9,495.5M726.5,497.8L731.9,497.8M726.5,500.1L731.9,500.1M726.5,502.5L731.9,502.5" stroke="#333" stroke-width="1"/><ellipse cx="729.2" cy="480.8" rx="5.5" ry="3.0" fill="#fff" stroke="#222" stroke-width="1.6" transform="rotate(0.0 729.2 480.8)"/><ellipse cx="729.2" cy="480.8" rx="2.5" ry="1.4" fill="none" stroke="#222" stroke-width="1" transform="rotate(0.0 729.2 480.8)"/>
<path d="M687.4,534.5L700,528.2L707.8,527.7L753.3,553.9L754.7,558.7L746,567.9L739.7,585.8L735.3,587.8L735.8,590.7L737.8,592.6L735.8,601.3L730.5,605.2L729,621.6L716.5,636.2L713.6,633.3L702,634.2L701.5,612.9C698,604 692,598 686.5,596.5L682.6,610L677.3,612.4L677.3,603.2L649.7,599.4L649.2,597.4L663.7,578.1L672.9,574.2Z" fill="#fff" stroke="#222" stroke-width="1.3" />
<path d="M687.4,536L745.5,566M688.4,538.5L745.5,568.5" fill="none" stroke="#222" stroke-width="1.1" />
<path d="M672.9,574.2L696.1,579L696.6,583.9L664.2,580M663.7,579.5L649.7,599.4M665.5,581L651.5,600" fill="none" stroke="#222" stroke-width="1.1" />
<path d="M664.2,580L696.6,583.9M666,584L695,587" fill="none" stroke="#222" stroke-width="0.9" />
<ellipse cx="673.9" cy="579" rx="2.6" ry="1.8" stroke-width="1.2"/>
<path d="M695.2,578.6C706,579 718,584 724.2,590.7C728,595 730,599 731,603" fill="none" stroke="#222" stroke-width="1.1" />
<path d="M680.7,593.6C685,589 690,587 696,586C703,586 712,588 718,592" fill="none" stroke="#222" stroke-width="1.1" />
<path d="M677.8,596.5C684,593 690,593 693.2,593.6C698,596 702,602 704,608L706.8,612.9" fill="none" stroke="#222" stroke-width="1.2" />
<path d="M686,592C692,591 698,594 702,600" fill="none" stroke="#444" stroke-width="2" />
<path d="M706.8,612.9L724.2,605.2L731,603M703,614L707,631M708,616L714,633" fill="none" stroke="#222" stroke-width="1.1" />
<path d="M718,608L712,632M722,606L716,634M726,604L720,634" fill="none" stroke="#222" stroke-width="1.1" />
<path d="M724,612V623M727,611V622" fill="none" stroke="#333" stroke-width="2.5" />
<path d="M730,602L733,597L736,600" fill="none" stroke="#222" stroke-width="1.5" />
<ellipse cx="741.5" cy="558.5" rx="2.2" ry="3" transform="rotate(35 741.5 558.5)" stroke-width="1.2"/>
<rect x="875.1" y="378" width="16.1" height="67.5" rx="3" fill="#fff" stroke-width="1.2"/>
<rect x="848.1" y="394" width="15.7" height="69.5" rx="3" fill="#fff" stroke-width="1.2"/>
<path d="M849.5,394.5L877,376.8M851.5,397.5L879,380M861.5,396L889.5,378.5M863.5,399.5L891,382" fill="none" stroke="#222" stroke-width="1.1" />
<path d="M851.3,399V462M860.2,398V463M879.5,381V445M887.6,381V445" fill="none" stroke="#888" stroke-width="0.8" />
<path d="M849,460Q856,466 863,460M876,442Q883,448 890.5,442" fill="none" stroke="#555" stroke-width="0.9" />
<path d="M944.4,367.4L988.8,381.5L991.3,388.3L967,414L922.4,398.5L922.4,390L924.1,388.9Z" fill="#fff" stroke="#222" stroke-width="1.6" />
<path d="M924.1,388.9L968.7,404.7L988.8,381.5M968.7,404.7L967,414" fill="none" stroke="#222" stroke-width="1.2" />
<path d="M956.3,371.4L934.8,397.9M960,372.6L938.5,399.2M973.5,379.5L952.5,402.6M977.2,380.7L956.2,404" fill="none" stroke="#222" stroke-width="1.7" />
<path d="M944.4,367.4L956.3,371.4M976,377.5L979,379.5M980,378.5L988.8,381.5" fill="none" stroke="#222" stroke-width="2.6" />
<path d="M986,384L970,402M984,383.5L968.5,401.5" fill="none" stroke="#666" stroke-width="0.9" />
<path d="M958.6,379.8L968.2,384.4L952.9,397.3L946.7,391.7Z" fill="#888" stroke="#222" stroke-width="1.4" />
<path d="M955,385L963,388.5M951,389.5L959,393" fill="none" stroke="#fff" stroke-width="1.4" />
<path d="M924.1,389.4L934.8,392.8M956.9,400.7L968.7,404.7" fill="none" stroke="#222" stroke-width="1.2" />
<path d="M907.2,462.7L944.1,473.9L944.1,528.8L913.5,549.9L877.6,539.3L877.6,484.5Z" fill="#fff" stroke="#222" stroke-width="1.2" />
<path d="M877.6,484.5L913.5,494L944.1,473.9M913.5,494V549.9" fill="none" stroke="#222" stroke-width="1.2" />
<path d="M884.7,599.5L884.7,614.5L887.5,614.5L887.5,599.5Z" fill="#fff" stroke="#222" stroke-width="1.2"/><path d="M884.7,604.7L887.5,604.7M884.7,606.9L887.5,606.9M884.7,609.1L887.5,609.1M884.7,611.3L887.5,611.3" stroke="#333" stroke-width="1"/><ellipse cx="886.1" cy="599.5" rx="3.2" ry="1.8" fill="#fff" stroke="#222" stroke-width="1.6" transform="rotate(0.0 886.1 599.5)"/><ellipse cx="886.1" cy="599.5" rx="1.4" ry="0.8" fill="none" stroke="#222" stroke-width="1" transform="rotate(0.0 886.1 599.5)"/>
<path d="M914.6,615.5L914.6,630.5L917.4,630.5L917.4,615.5Z" fill="#fff" stroke="#222" stroke-width="1.2"/><path d="M914.6,620.7L917.4,620.7M914.6,622.9L917.4,622.9M914.6,625.1L917.4,625.1M914.6,627.3L917.4,627.3" stroke="#333" stroke-width="1"/><ellipse cx="916.0" cy="615.5" rx="3.2" ry="1.8" fill="#fff" stroke="#222" stroke-width="1.6" transform="rotate(0.0 916.0 615.5)"/><ellipse cx="916.0" cy="615.5" rx="1.4" ry="0.8" fill="none" stroke="#222" stroke-width="1" transform="rotate(0.0 916.0 615.5)"/>
<path d="M961.8,642.0L948.0,652.0L949.9,654.6L963.6,644.6Z" fill="#fff" stroke="#222" stroke-width="1.2"/><path d="M957.6,645.0L959.5,647.6M955.8,646.3L957.7,648.9M954.1,647.6L956.0,650.2M952.3,648.9L954.2,651.5M950.6,650.1L952.4,652.7" stroke="#333" stroke-width="1"/><ellipse cx="962.7" cy="643.3" rx="3.0" ry="1.7" fill="#fff" stroke="#222" stroke-width="1.6" transform="rotate(54.0 962.7 643.3)"/><ellipse cx="962.7" cy="643.3" rx="1.4" ry="0.8" fill="none" stroke="#222" stroke-width="1" transform="rotate(54.0 962.7 643.3)"/>
<ellipse cx="941.4" cy="659.6" rx="4.5" ry="5.8" transform="rotate(25 941.4 659.6)" fill="#fff" stroke-width="1.1"/>
<ellipse cx="941.4" cy="659.6" rx="1.5" ry="2" fill="none" stroke-width="1"/>
<path d="M925,667L931,664A3.8,5.4 25 0 1 934,675L928,678" fill="#fff" stroke="#222" stroke-width="1.2" />
<ellipse cx="926.5" cy="672.5" rx="3.6" ry="5.4" transform="rotate(25 926.5 672.5)" fill="#fff" stroke-width="1.2"/>
<path d="M803.2,659L806,656.3H810.5L813.3,659V663L810.5,665.7H806L803.2,663Z" fill="#fff" stroke="#222" stroke-width="1.6"/>
<path d="M803.5,660.5H813M806.5,660.5V665M810,660.5V665" stroke-width="1"/>
<path d="M860,686.7L921.9,712.9L926.7,720.6L875.4,761.2L874.5,761.2L834,749.1C830,749 827,750 826.2,751.8L817.8,770.6L811.5,778L798.4,770.6L804.2,762.2L809.4,730.8L811,726.6Z" fill="#fff" stroke="#222" stroke-width="1.3" />
<path d="M811,726.6L876,761.2M810,729.5L875.5,764" fill="none" stroke="#222" stroke-width="1.1" />
<path d="M860,688.5L924,718M859.5,691L922.5,720.5" fill="none" stroke="#222" stroke-width="1.1" />
<path d="M804,763.5L818,769.5M803,765.5L817,771.5" fill="none" stroke="#222" stroke-width="1.1" />
<ellipse cx="808" cy="771" rx="1.8" ry="1.2" stroke-width="1.1"/>
<ellipse cx="879.1" cy="694.6" rx="1.5" ry="1.1" stroke-width="1"/>
<ellipse cx="913.7" cy="710.4" rx="1.5" ry="1.1" stroke-width="1"/>
<path d="M922,715L925,722L920,723Z" fill="#333" stroke-width="1"/>
<rect x="839.5" y="704.0" width="10" height="6" transform="rotate(-60 844.5 707)" stroke-width="1.2" fill="#fff"/>
<path d="M841.5,704.5V709.5M843.5,704.5V709.5M845.5,704.5V709.5M847.5,704.5V709.5" transform="rotate(-60 844.5 707)" stroke-width="0.8"/>
<rect x="838.5" y="727.3" width="10" height="6" transform="rotate(20 843.5 730.3)" stroke-width="1.2" fill="#fff"/>
<path d="M840.5,727.8V732.8M842.5,727.8V732.8M844.5,727.8V732.8M846.5,727.8V732.8" transform="rotate(20 843.5 730.3)" stroke-width="0.8"/>
<rect x="866.6" y="740.8" width="10" height="6" transform="rotate(20 871.6 743.8)" stroke-width="1.2" fill="#fff"/>
<path d="M868.6,741.3V746.3M870.6,741.3V746.3M872.6,741.3V746.3M874.6,741.3V746.3" transform="rotate(20 871.6 743.8)" stroke-width="0.8"/>
<rect x="890.8" y="728.2" width="10" height="6" transform="rotate(-60 895.8 731.2)" stroke-width="1.2" fill="#fff"/>
<path d="M892.8,728.7V733.7M894.8,728.7V733.7M896.8,728.7V733.7M898.8,728.7V733.7" transform="rotate(-60 895.8 731.2)" stroke-width="0.8"/>
<path d="M811.5,787.4L823.6,778.6L821.6,775.8L809.5,784.6Z" fill="#fff" stroke="#222" stroke-width="1.2"/><path d="M815.7,784.3L813.7,781.6M817.5,783.0L815.5,780.3M819.3,781.7L817.3,779.0M821.0,780.4L819.0,777.7" stroke="#333" stroke-width="1"/><ellipse cx="810.5" cy="786.0" rx="3.2" ry="1.8" fill="#fff" stroke="#222" stroke-width="1.6" transform="rotate(-126.0 810.5 786.0)"/><ellipse cx="810.5" cy="786.0" rx="1.4" ry="0.8" fill="none" stroke="#222" stroke-width="1" transform="rotate(-126.0 810.5 786.0)"/>
<ellipse cx="828.3" cy="771.7" rx="3.8" ry="5" transform="rotate(25 828.3 771.7)" fill="#fff" stroke-width="1.1"/>
<ellipse cx="828.3" cy="771.7" rx="1.2" ry="1.6" stroke-width="0.9"/>
<path d="M836,760.5L841,758A3.5,4.6 25 0 1 843.5,767.5L838.5,769.5" fill="#fff" stroke="#222" stroke-width="1.1" />
<ellipse cx="837" cy="765" rx="3.3" ry="4.6" transform="rotate(25 837 765)" fill="#fff" stroke-width="1.1"/>
<ellipse cx="852.4" cy="759.1" rx="3" ry="2.4" fill="#fff" stroke-width="1.5"/>
<path d="M852.4,752.5V755.5" stroke-width="1"/>
<path d="M661.9,1128.3L661.9,1105.3L656.7,1105.3L656.7,1128.3Z" fill="#fff" stroke="#222" stroke-width="1.2"/><path d="M661.9,1122.9L656.7,1122.9M661.9,1120.5L656.7,1120.5M661.9,1118.2L656.7,1118.2M661.9,1115.8L656.7,1115.8M661.9,1113.4L656.7,1113.4M661.9,1111.0L656.7,1111.0M661.9,1108.7L656.7,1108.7" stroke="#333" stroke-width="1"/><ellipse cx="659.3" cy="1128.3" rx="5.0" ry="2.8" fill="#fff" stroke="#222" stroke-width="1.6" transform="rotate(-180.0 659.3 1128.3)"/><ellipse cx="659.3" cy="1128.3" rx="2.2" ry="1.2" fill="none" stroke="#222" stroke-width="1" transform="rotate(-180.0 659.3 1128.3)"/>
<path d="M1057.5,233.0L1057.5,245.0L1060.5,245.0L1060.5,233.0Z" fill="#fff" stroke="#222" stroke-width="1.2"/><path d="M1057.5,238.0L1060.5,238.0M1057.5,240.0L1060.5,240.0M1057.5,242.0L1060.5,242.0" stroke="#333" stroke-width="1"/><ellipse cx="1059.0" cy="233.0" rx="3.0" ry="1.7" fill="#fff" stroke="#222" stroke-width="1.6" transform="rotate(0.0 1059.0 233.0)"/><ellipse cx="1059.0" cy="233.0" rx="1.4" ry="0.8" fill="none" stroke="#222" stroke-width="1" transform="rotate(0.0 1059.0 233.0)"/>
<path d="M1075.5,230.0L1075.5,242.0L1078.5,242.0L1078.5,230.0Z" fill="#fff" stroke="#222" stroke-width="1.2"/><path d="M1075.5,235.0L1078.5,235.0M1075.5,237.0L1078.5,237.0M1075.5,239.0L1078.5,239.0" stroke="#333" stroke-width="1"/><ellipse cx="1077.0" cy="230.0" rx="3.0" ry="1.7" fill="#fff" stroke="#222" stroke-width="1.6" transform="rotate(0.0 1077.0 230.0)"/><ellipse cx="1077.0" cy="230.0" rx="1.4" ry="0.8" fill="none" stroke="#222" stroke-width="1" transform="rotate(0.0 1077.0 230.0)"/>
<path d="M1036.5,273.5L1041,270.3L1058.4,256.1L1064.2,248.4L1081,257.4L1089.4,269L1090,278.7L1081.6,294.8L1054.5,309L1047.4,300L1036.5,291.6Z" fill="#fff" stroke="#222" stroke-width="1.6" />
<path d="M1058.4,256.1L1064.2,248.4L1081,257.1L1074.5,261.3L1072.6,267.1L1066.1,271L1064.8,263.9L1060.3,264.5L1059,260.6Z" fill="#2a2a2a" stroke="#222" stroke-width="1.2" />
<circle cx="1078.4" cy="262.6" r="4.3" fill="#fff" stroke="none"/>
<path d="M1041,270.3L1046.1,267.7L1048.7,272.3L1044.2,274.2Z" fill="#2a2a2a" stroke="#222" stroke-width="1.2" />
<path d="M1051.9,281.9L1084.8,264.5" fill="none" stroke="#222" stroke-width="4.5" />
<path d="M1050,298L1087.4,281.9" fill="none" stroke="#222" stroke-width="5" />
<circle cx="1068.1" cy="283.9" r="4.3" fill="#2a2a2a" stroke="none"/>
<circle cx="1081.6" cy="276.1" r="4.3" fill="#2a2a2a" stroke="none"/>
<circle cx="1057.1" cy="293.5" r="3.6" fill="#fff" stroke="#222" stroke-width="1.5"/>
<path d="M1036.5,273.5L1045.5,280.6V286M1036.5,283.9L1046,290M1047.4,300L1054,303V309M1054,303L1082,289" fill="none" stroke="#222" stroke-width="1.3" />
<path d="M1017.5,314L1046.1,293.5" fill="none" stroke="#222" stroke-width="7" />
<path d="M1122,142.5L1138.9,130.3L1148,136L1143.4,140.2L1138.1,144.8L1132,144.8L1127.4,147.9L1124,146Z" fill="#fff" stroke="#222" stroke-width="1.2" />
<path d="M1132,144.8C1130,141 1131,137 1134,135" fill="none" stroke="#222" stroke-width="1" />
<ellipse cx="1145.7" cy="132.6" rx="5.6" ry="8.2" transform="rotate(35 1145.7 132.6)" fill="#fff" stroke="#333" stroke-width="2.4"/>
<ellipse cx="1145.7" cy="132.6" rx="3" ry="5.2" transform="rotate(35 1145.7 132.6)" fill="none" stroke="#444" stroke-width="1"/>
<path d="M1147,125.5L1153.5,121.2L1159.5,122.5L1161,127L1157,130.5L1150,131" fill="#fff" stroke="#222" stroke-width="1.3" />
<ellipse cx="1156.1" cy="127" rx="1.8" ry="1.1" fill="#222"/>
<path d="M1069.9,157.1C1070,154.5 1072.5,153.3 1075,153.8L1093,162.2L1093.6,166.3L1089,168.5L1075.5,162.5L1070,167.8L1069.9,157.1Z" fill="#fff" stroke="#222" stroke-width="1.3" />
<path d="M1069.9,157.1L1076,160.5L1076,167.5M1076,160.5L1093,168" fill="none" stroke="#222" stroke-width="1" />
<ellipse cx="1074.2" cy="156.6" rx="2.3" ry="1.3" stroke-width="1"/>
<path d="M1086.7,167.5V176.5A5,2.2 0 0 0 1096.7,176.5V167.5" fill="#fff" stroke="#222" stroke-width="1.3" />
<ellipse cx="1091.7" cy="167.5" rx="5" ry="2.4" fill="#fff" stroke-width="1.2"/>
<path d="M1096.7,153.3L1111.3,144.8L1118.5,149.4V157.9L1102.8,166.3L1096.7,162.5Z" fill="#fff" stroke="#222" stroke-width="1.3" />
<path d="M1102.8,157.5V166.3M1102.8,157.5L1118.5,149.4M1096.7,153.3L1102.8,157.5" fill="none" stroke="#222" stroke-width="1" />
<path d="M1090.0,159.0Q1093.0,163.0 1091.0,168.0M1093.0,157.3Q1096.0,161.3 1094.0,166.3M1096.0,155.6Q1099.0,159.6 1097.0,164.6M1099.0,153.9Q1102.0,157.9 1100.0,162.9" fill="none" stroke="#222" stroke-width="1.1" />
<path d="M1050,186L1088.5,164.5" fill="none" stroke="#222" stroke-width="8.5" stroke-linecap="butt"/>
<path d="M1049,186.5L1089.5,164" fill="none" stroke="#fff" stroke-width="6.2" stroke-linecap="butt"/>
<path d="M1049.5,180.5Q1054.0,183.0 1053.0,189.5M1053.0,178.6Q1057.5,181.1 1056.5,187.6M1056.5,176.7Q1061.0,179.2 1060.0,185.7M1060.0,174.8Q1064.5,177.3 1063.5,183.8M1063.5,172.9Q1068.0,175.4 1067.0,181.9M1067.0,171.0Q1071.5,173.5 1070.5,180.0M1070.5,169.1Q1075.0,171.6 1074.0,178.1M1074.0,167.2Q1078.5,169.7 1077.5,176.2M1077.5,165.3Q1082.0,167.8 1081.0,174.3M1081.0,163.4Q1085.5,165.9 1084.5,172.4M1084.5,161.5Q1089.0,164.0 1088.0,170.5" fill="none" stroke="#222" stroke-width="1.1" />
<path d="M1074.1,142.0L1074.1,150.0L1076.3,150.0L1076.3,142.0Z" fill="#fff" stroke="#222" stroke-width="1.2"/><path d="M1074.1,146.3L1076.3,146.3M1074.1,147.7L1076.3,147.7" stroke="#333" stroke-width="1"/><ellipse cx="1075.2" cy="142.0" rx="2.0" ry="1.1" fill="#fff" stroke="#222" stroke-width="1.6" transform="rotate(0.0 1075.2 142.0)"/><ellipse cx="1075.2" cy="142.0" rx="0.9" ry="0.5" fill="none" stroke="#222" stroke-width="1" transform="rotate(0.0 1075.2 142.0)"/>
<path d="M1089.5,145.5L1089.5,154.5L1091.7,154.5L1091.7,145.5Z" fill="#fff" stroke="#222" stroke-width="1.2"/><path d="M1089.5,150.2L1091.7,150.2M1089.5,151.8L1091.7,151.8" stroke="#333" stroke-width="1"/><ellipse cx="1090.6" cy="145.5" rx="2.2" ry="1.2" fill="#fff" stroke="#222" stroke-width="1.6" transform="rotate(0.0 1090.6 145.5)"/><ellipse cx="1090.6" cy="145.5" rx="1.0" ry="0.6" fill="none" stroke="#222" stroke-width="1" transform="rotate(0.0 1090.6 145.5)"/>
</g>
</svg></body></html>
